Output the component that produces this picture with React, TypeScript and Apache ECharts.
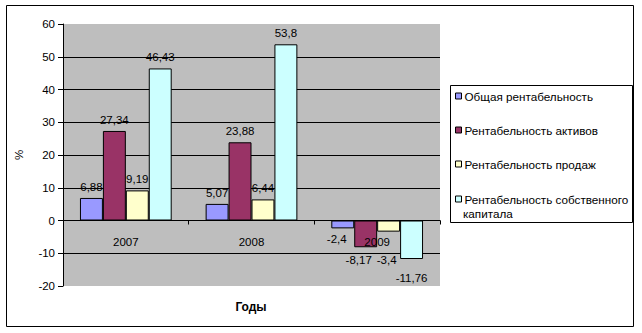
import React, { useEffect, useRef } from "react";
import * as echarts from "echarts";

const categories = ["2007", "2008", "2009"];
const seriesNames = [
  "Общая рентабельность",
  "Рентабельность активов",
  "Рентабельность продаж",
  "Рентабельность собственного капитала",
];
const totalProfitability = [6.88, 5.07, -2.4];
const assetsProfitability = [27.34, 23.88, -8.17];
const salesProfitability = [9.19, 6.44, -3.4];
const equityProfitability = [46.43, 53.8, -11.76];
const seriesColors = ["#9999FF", "#993366", "#FFFFCC", "#CCFFFF"];
const yTicks = [-20, -10, 0, 10, 20, 30, 40, 50, 60];

const FONT = "'Liberation Sans', Arial, sans-serif";

// label nudges (series index - category index) to mimic the reference's overlap avoidance
const labelNudges: Record<string, [number, number]> = {
  "0-2": [-6, 0],
  "1-2": [-7, 2],
  "2-2": [-2, 17],
  "3-2": [0, 8],
};

export default function App() {
  const ref = useRef<HTMLDivElement>(null);
  useEffect(() => {
    if (!ref.current) return;
    const chart = echarts.init(ref.current, null, { renderer: "svg" });
    const allValues = [
      totalProfitability,
      assetsProfitability,
      salesProfitability,
      equityProfitability,
    ];
    const fmt = (v: number) => String(v).replace(".", ",");
    const series = allValues.map((vals, i) => ({
      type: "bar",
      name: seriesNames[i],
      barGap: "0%",
      barCategoryGap: "27%",
      itemStyle: { color: seriesColors[i], borderColor: "#000", borderWidth: 1 },
      data: vals.map((v, j) => ({
        value: v,
        label: {
          position: v >= 0 ? "top" : "bottom",
          offset: labelNudges[`${i}-${j}`] || [0, 0],
        },
      })),
      label: {
        show: true,
        color: "#000",
        fontFamily: FONT,
        fontSize: 11.5,
        distance: 5,
        formatter: (p: any) => fmt(p.value),
      },
    }));
    const splitColors = yTicks.map((t, i) =>
      i === 0 || i === yTicks.length - 1 ? "rgba(0,0,0,0)" : "#000"
    );
    const legendText = { fontFamily: FONT, fontSize: 11.7, color: "#000", padding: [0, 0, 0, -2] };
    chart.setOption({
      animation: false,
      textStyle: { fontFamily: FONT },
      graphic: [
        {
          type: "rect",
          shape: { x: 6.5, y: 5.5, width: 627, height: 321 },
          style: { fill: "#fff", stroke: "#000", lineWidth: 1 },
          z: -10,
        },
        {
          type: "rect",
          shape: { x: 450.5, y: 85.5, width: 182, height: 137 },
          style: { fill: "#fff", stroke: "#000", lineWidth: 1 },
          z: -5,
        },
        {
          type: "text",
          left: 463,
          top: 207,
          style: {
            text: "капитала",
            fill: "#000",
            font: `11.7px ${FONT}`,
          },
        },
        {
          type: "text",
          x: 251,
          y: 307,
          style: {
            text: "Годы",
            fill: "#000",
            font: `bold 12px ${FONT}`,
            align: "center",
            verticalAlign: "middle",
          },
        },
      ],
      grid: {
        left: 63,
        right: 202,
        top: 24,
        bottom: 47,
        show: true,
        backgroundColor: "#BEBEBE",
        borderWidth: 0,
        outerBoundsMode: "none",
        containLabel: false,
      },
      legend: [
        {
          data: seriesNames.slice(0, 3),
          orient: "vertical",
          left: 451,
          top: 90,
          padding: [0, 0, 0, 4],
          itemGap: 22,
          itemWidth: 6,
          itemHeight: 6,
          icon: "rect",
          textStyle: legendText,
          itemStyle: { borderColor: "#000", borderWidth: 1 },
        },
        {
          data: [seriesNames[3]],
          orient: "vertical",
          left: 451,
          top: 193,
          padding: [0, 0, 0, 4],
          itemWidth: 6,
          itemHeight: 6,
          icon: "rect",
          formatter: () => "Рентабельность собственного",
          textStyle: legendText,
          itemStyle: { borderColor: "#000", borderWidth: 1 },
        },
      ],
      xAxis: {
        type: "category",
        data: categories,
        z: 3,
        axisLine: { onZero: true, lineStyle: { color: "#000", width: 1 } },
        axisTick: { show: true, length: 4, lineStyle: { color: "#000" } },
        axisLabel: { color: "#000", fontFamily: FONT, fontSize: 11.5, margin: -50 },
        splitLine: { show: false },
      },
      yAxis: {
        type: "value",
        min: -20,
        max: 60,
        interval: 10,
        name: "%",
        nameLocation: "middle",
        nameRotate: 90,
        nameGap: 38,
        nameTextStyle: { fontFamily: FONT, fontSize: 11.5, color: "#000" },
        axisLine: { show: true, lineStyle: { color: "#000", width: 1 } },
        axisTick: { show: true, length: 5, lineStyle: { color: "#000" } },
        axisLabel: { color: "#000", fontFamily: FONT, fontSize: 11.5, margin: 8 },
        splitLine: { show: true, lineStyle: { color: splitColors, width: 1 } },
      },
      series,
    });
    return () => chart.dispose();
  }, []);
  return (
    <div
      ref={ref}
      style={{ position: "absolute", left: 0, top: 0, width: 642, height: 333 }}
    />
  );
}
